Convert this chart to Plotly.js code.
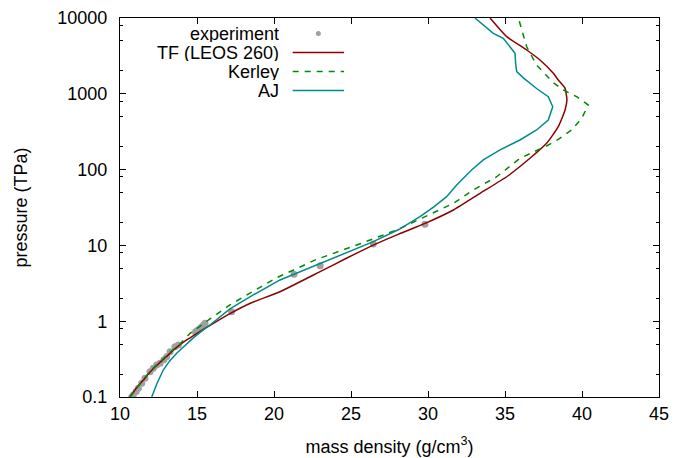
<!DOCTYPE html>
<html>
<head>
<meta charset="utf-8">
<script src="https://cdn.plot.ly/plotly-3.0.1.min.js"></script>
<style>
html,body{margin:0;padding:0;background:#fff;}
#chart{width:688px;height:458px;}
</style>
</head>
<body>
<div id="chart"></div>
<script>
// mass density (g/cm^3) and pressure (TPa)
var expDensity = [10.76, 10.86, 11.05, 11.19, 11.41, 11.62, 11.95, 12.16, 12.38, 12.60, 12.85, 13.03, 13.25, 13.57, 13.79, 14.90, 14.98, 15.08, 15.20, 15.31, 15.42, 15.52, 17.25, 21.3, 23.0, 26.45, 29.8];
var expPressure = [0.100, 0.106, 0.118, 0.130, 0.152, 0.177, 0.216, 0.239, 0.264, 0.279, 0.310, 0.340, 0.396, 0.461, 0.485, 0.720, 0.745, 0.766, 0.800, 0.846, 0.885, 0.937, 1.33, 4.15, 5.4, 10.4, 19.0];

var tfDensity = [10.65, 11.0, 11.5, 12.0, 12.5, 13.0, 13.6, 14.3, 15.0, 15.8, 17.14, 18.5, 20.39, 22.99, 24.7, 26.45, 28.1, 29.81, 31.65, 33.38, 35.11, 36.62, 37.7, 38.46, 38.9, 39.02, 38.9, 38.46, 38.14, 37.27, 36.41, 35.11, 34.03];
var tfPressure = [0.100, 0.126, 0.166, 0.219, 0.275, 0.339, 0.437, 0.562, 0.692, 0.871, 1.26, 1.74, 2.45, 4.50, 6.76, 10.1, 14.1, 19.5, 29.3, 48.6, 80.5, 141, 222, 368, 611, 832, 1180, 1521, 1862, 2793, 3784, 5675, 10000];

var kerleyDensity = [10.65, 11.0, 11.5, 12.0, 12.6, 13.2, 13.9, 14.55, 15.84, 17.14, 18.6, 20.17, 22.77, 25.37, 27.97, 30.56, 31.65, 32.94, 34.46, 35.97, 36.84, 37.7, 38.46, 39.33, 39.98, 40.41, 39.65, 38.79, 38.14, 37.05, 36.41, 36.08, 35.87];
var kerleyPressure = [0.100, 0.126, 0.170, 0.224, 0.295, 0.380, 0.501, 0.692, 1.07, 1.64, 2.45, 3.75, 6.55, 10.1, 16.0, 27.9, 35.9, 53.8, 80.5, 141, 172, 205, 251, 333, 475, 711, 916, 1122, 1400, 2399, 4169, 6918, 10000];

var ajDensity = [12.06, 12.4, 12.81, 13.2, 13.68, 14.2, 14.76, 15.3, 15.84, 17.14, 18.6, 20.39, 22.99, 26.45, 28.1, 29.48, 30.4, 31.21, 31.86, 32.83, 33.59, 34.68, 35.97, 37.05, 37.81, 38.1, 37.81, 37.05, 36.19, 35.76, 35.69, 35.65, 34.89, 34.24, 33.05];
var ajPressure = [0.100, 0.151, 0.227, 0.295, 0.377, 0.479, 0.603, 0.741, 0.891, 1.45, 2.19, 3.50, 5.81, 11.2, 16.2, 23.9, 32.4, 44.0, 62.7, 98.9, 134, 182, 246, 333, 451, 676, 916, 1175, 1622, 1959, 2523, 3420, 5395, 6281, 10000];

var xTickVals = [10, 15, 20, 25, 30, 35, 40, 45];
var yTickVals = [0.1, 1, 10, 100, 1000, 10000];
var yTickText = ['0.1', '1', '10', '100', '1000', '10000'];
var yMinorVals = [0.2, 0.5, 0.8, 2, 5, 8, 20, 50, 80, 200, 500, 800, 2000, 5000, 8000];

var legendNames = ['experiment', 'TF (LEOS 260)', 'Kerley', 'AJ'];
var colors = {exp: '#a0a0a0', tf: '#8b0000', kerley: '#008a00', aj: '#008b8b'};

var font = 'Liberation Sans, Arial, sans-serif';

var traces = [
  {x: expDensity, y: expPressure, type: 'scatter', mode: 'markers', name: legendNames[0],
   marker: {color: colors.exp, size: 7}},
  {x: tfDensity, y: tfPressure, type: 'scatter', mode: 'lines', name: legendNames[1],
   line: {color: colors.tf, width: 1.5, shape: 'spline', smoothing: 0.5}},
  {x: kerleyDensity, y: kerleyPressure, type: 'scatter', mode: 'lines', name: legendNames[2],
   line: {color: colors.kerley, width: 1.5, dash: '6px,6px'}},
  {x: ajDensity, y: ajPressure, type: 'scatter', mode: 'lines', name: legendNames[3],
   line: {color: colors.aj, width: 1.5}}
];

// manual gnuplot-style legend (text on the left, sample on the right)
var rowY = [0.959, 0.909, 0.8588, 0.8087];
var textX = 0.2968, s0 = 0.3204, s1 = 0.4156;
var annotations = legendNames.map(function (n, i) {
  return {xref: 'paper', yref: 'paper', x: textX, y: rowY[i], xanchor: 'right', yanchor: 'middle',
          text: n, showarrow: false, borderpad: 0, height: 17, valign: 'middle',
          font: {family: font, size: 18, color: '#000'}};
});
var shapes = [
  {type: 'circle', xref: 'paper', yref: 'paper', xsizemode: 'pixel', ysizemode: 'pixel',
   xanchor: (s0 + s1) / 2, yanchor: rowY[0], x0: -2.5, x1: 2.5, y0: -2.5, y1: 2.5,
   fillcolor: colors.exp, line: {width: 0}},
  {type: 'line', xref: 'paper', yref: 'paper', x0: s0, x1: s1, y0: rowY[1], y1: rowY[1],
   line: {color: colors.tf, width: 1.5}},
  {type: 'line', xref: 'paper', yref: 'paper', x0: s0, x1: s1, y0: rowY[2], y1: rowY[2],
   line: {color: colors.kerley, width: 1.5, dash: '6px,6px'}},
  {type: 'line', xref: 'paper', yref: 'paper', x0: s0, x1: s1, y0: rowY[3], y1: rowY[3],
   line: {color: colors.aj, width: 1.5}}
];

var layout = {
  width: 688, height: 458,
  margin: {l: 120, r: 29, t: 18, b: 61, pad: 0},
  paper_bgcolor: '#fff', plot_bgcolor: '#fff',
  showlegend: false,
  font: {family: font, size: 18, color: '#000'},
  xaxis: {
    range: [10, 45], tickmode: 'array', tickvals: xTickVals,
    ticks: 'inside', ticklen: 6, tickwidth: 1, tickcolor: '#000',
    showline: true, linecolor: '#000', linewidth: 1.2, mirror: 'ticks',
    showgrid: false, zeroline: false,
    tickfont: {family: font, size: 18},
    title: {text: 'mass density (g/cm<sup>3</sup>)', font: {family: font, size: 18}, standoff: 17}
  },
  yaxis: {
    type: 'log', range: [-1, 4], tickmode: 'array', tickvals: yTickVals, ticktext: yTickText,
    ticks: 'inside', ticklen: 6, tickwidth: 1, tickcolor: '#000',
    minor: {tickvals: yMinorVals, ticks: 'inside', ticklen: 3, tickwidth: 1, tickcolor: '#000', showgrid: false},
    showline: true, linecolor: '#000', linewidth: 1.2, mirror: 'ticks',
    showgrid: false, zeroline: false,
    tickfont: {family: font, size: 18},
    ticklabelstandoff: 8,
    title: {text: 'pressure (TPa)', font: {family: font, size: 18}, standoff: 24}
  },
  annotations: annotations,
  shapes: shapes
};

Plotly.newPlot('chart', traces, layout, {displayModeBar: false, staticPlot: true});
</script>
</body>
</html>
